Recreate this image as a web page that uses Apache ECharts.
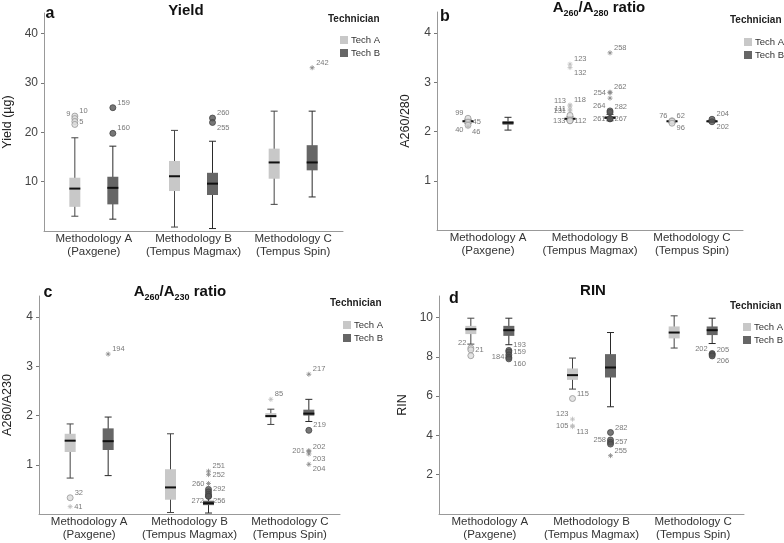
<!DOCTYPE html>
<html><head><meta charset="utf-8">
<script src="https://cdn.jsdelivr.net/npm/echarts@6/dist/echarts.min.js"></script>
<style>html,body{margin:0;padding:0;background:#fff}#c{width:784px;height:543px}</style>
</head><body><div id="c"></div>
<script>
const FONT = '"Liberation Sans", Arial, sans-serif';
const categories = ['Methodology A\n(Paxgene)', 'Methodology B\n(Tempus Magmax)', 'Methodology C\n(Tempus Spin)'];
const techNames = ['Tech A', 'Tech B'];

// Box statistics per methodology: [min whisker, Q1, median, Q3, max whisker]
// Panel a: Yield (µg)
const yieldTechA = [[3.0, 4.9, 8.6, 10.8, 18.9], [0.8, 8.1, 11.1, 14.2, 20.4], [5.4, 10.6, 13.9, 16.7, 24.3]];
const yieldTechB = [[2.4, 5.4, 8.75, 11.0, 17.2], [0.5, 7.3, 9.6, 11.8, 18.2], [6.9, 12.3, 13.9, 17.4, 24.3]];
// Outliers: [methodology index, value, kind ('o' outlier, '*' extreme), case label]
const yieldOutA = [[0, 23.3, 'o', '10'], [0, 22.8, 'o', '9'], [0, 22.2, 'o', '5'], [0, 21.6, 'o', '']];
const yieldOutB = [[0, 25.0, 'o', '159'], [0, 19.8, 'o', '160'], [1, 22.9, 'o', '260'], [1, 22.0, 'o', '255'], [2, 33.1, '*', '242']];

// Panel b: A260/A280
const r280TechA = [[2.17, 2.19, 2.21, 2.23, 2.25], [2.22, 2.24, 2.26, 2.28, 2.30], [2.18, 2.19, 2.21, 2.22, 2.23]];
const r280TechB = [[2.03, 2.14, 2.18, 2.21, 2.29], [2.22, 2.26, 2.28, 2.31, 2.35], [2.19, 2.20, 2.21, 2.22, 2.23]];
const r280OutA = [[0, 2.27, 'o', '99'], [0, 2.19, 'o', '45'], [0, 2.13, 'o', '40'], [0, 2.10, '*', '46'],
  [1, 2.33, 'o', ''], [1, 2.22, 'o', '133'], [1, 2.22, 'o', '112'], [1, 2.42, '*', '131'], [1, 2.46, '*', '111'],
  [1, 2.52, '*', '113'], [1, 2.54, '*', '118'], [1, 3.37, '*', '123'], [1, 3.30, '*', '132'],
  [2, 2.22, 'o', '76'], [2, 2.21, 'o', '62'], [2, 2.17, 'o', '96']];
const r280OutB = [[1, 2.42, 'o', '264'], [1, 2.39, 'o', '282'], [1, 2.26, 'o', '261'], [1, 2.26, 'o', '267'],
  [1, 2.68, '*', ''], [1, 2.79, '*', '254'], [1, 2.80, '*', '262'], [1, 3.60, '*', '258'],
  [2, 2.25, 'o', '204'], [2, 2.20, 'o', '202']];

// Panel c: A260/A230
const r230TechA = [[0.73, 1.26, 1.49, 1.63, 1.83], [0.03, 0.29, 0.54, 0.91, 1.63], [1.82, 1.96, 1.99, 2.05, 2.13]];
const r230TechB = [[0.78, 1.30, 1.48, 1.74, 1.97], [0.02, 0.18, 0.22, 0.27, 0.36], [1.88, 2.00, 2.04, 2.12, 2.33]];
const r230OutA = [[0, 0.33, 'o', '32'], [0, 0.15, '*', '41'], [2, 2.33, '*', '85']];
const r230OutB = [[0, 3.25, '*', '194'], [1, 0.87, '*', '251'], [1, 0.80, '*', '252'], [1, 0.62, '*', '260'],
  [1, 0.50, 'o', '292'], [1, 0.45, 'o', ''], [1, 0.40, 'o', ''], [1, 0.36, 'o', '272'], [1, 0.36, 'o', '256'],
  [2, 2.84, '*', '217'], [2, 1.70, 'o', '219'], [2, 1.29, '*', '201'], [2, 1.27, '*', '202'],
  [2, 1.22, '*', '203'], [2, 1.01, '*', '204']];

// Panel d: RIN
const rinTechA = [[8.65, 9.16, 9.41, 9.58, 9.97], [6.36, 6.83, 7.07, 7.41, 7.94], [8.45, 8.94, 9.24, 9.55, 10.09]];
const rinTechB = [[8.62, 9.07, 9.36, 9.58, 9.97], [5.46, 6.95, 7.46, 8.14, 9.24], [8.68, 9.11, 9.36, 9.55, 9.97]];
const rinOutA = [[0, 8.45, 'o', '22'], [0, 8.36, 'o', '21'], [0, 8.06, 'o', ''], [1, 5.88, 'o', '115'],
  [1, 4.83, '*', '123'], [1, 4.49, '*', '105'], [1, 4.45, '*', '113']];
const rinOutB = [[0, 8.33, 'o', '193'], [0, 8.25, 'o', '159'], [0, 8.10, 'o', ''], [0, 7.98, 'o', '184'], [0, 7.90, 'o', '160'],
  [1, 4.15, 'o', '282'], [1, 3.77, 'o', '258'], [1, 3.65, 'o', '257'], [1, 3.56, 'o', ''], [1, 2.97, '*', '255'],
  [2, 8.17, 'o', '202'], [2, 8.12, 'o', '205'], [2, 8.05, 'o', '206']];

// label placement of case numbers (style only)
const placeA = {'10': 'tr', '9': 'tl', '5': 'r', '159': 'tr', '160': 'tr', '260': 'tr', '255': 'br', '242': 'tr'};
const placeB = {'99': 'tl', '45': 'r', '40': 'bl', '46': 'br', '133': 'l', '112': 'r', '131': 'l', '111': 'l', '113': 'tl', '118': 'tr',
  '123': 'tr', '132': 'br', '76': 'tl', '62': 'tr', '96': 'br', '264': 'tl', '282': 'tr', '261': 'l', '267': 'r',
  '254': 'l', '262': 'tr', '258': 'tr', '204': 'tr', '202': 'br'};
const placeC = {'32': 'tr', '41': 'r', '85': 'tr', '194': 'tr', '251': 'tr', '252': 'r', '260': 'l', '292': 'r', '272': 'bl', '256': 'br',
  '217': 'tr', '219': 'tr', '201': 'l', '202': 'tr', '203': 'br', '204': 'br'};
const placeD = {'22': 'tl', '21': 'r', '115': 'tr', '123': 'tl', '105': 'l', '113': 'br', '193': 'tr', '159': 'r', '184': 'l', '160': 'br',
  '282': 'tr', '258': 'l', '257': 'r', '255': 'tr', '202': 'tl', '205': 'tr', '206': 'br'};

const panels = [
  {letter: 'a', title: 'Yield', yName: 'Yield (µg)', boxes: [yieldTechA, yieldTechB], outs: [yieldOutA, yieldOutB], place: placeA, yMax: 44.2, interval: 10,
   grid: {left: 37, top: 13, width: 306, height: 218}, nameGap: 30, titleXY: [186, 11], letterXY: [50, 14], legXY: [335, 30], techXY: [328, 19], offset: 19},
  {letter: 'b', title: '{b|A}{s|260}{b|/A}{s|280}{b| ratio}', yName: 'A260/280', boxes: [r280TechA, r280TechB], outs: [r280OutA, r280OutB], place: placeB, yMax: 4.43, interval: 1,
   grid: {left: 437, top: 12, width: 306, height: 218}, nameGap: 25, titleXY: [599, 8], letterXY: [445, 17], legXY: [739, 32], techXY: [730, 20], offset: 20},
  {letter: 'c', title: '{b|A}{s|260}{b|/A}{s|230}{b| ratio}', yName: 'A260/A230', boxes: [r230TechA, r230TechB], outs: [r230OutA, r230OutB], place: placeC, yMax: 4.43, interval: 1,
   grid: {left: 35, top: 296, width: 305, height: 218}, nameGap: 25, titleXY: [180, 292], letterXY: [48, 293], legXY: [338, 315], techXY: [330, 303], offset: 19},
  {letter: 'd', title: 'RIN', yName: 'RIN', boxes: [rinTechA, rinTechB], outs: [rinOutA, rinOutB], place: placeD, yMax: 11.1, interval: 2,
   grid: {left: 439, top: 296, width: 305, height: 218}, nameGap: 30, titleXY: [593, 291], letterXY: [454, 299], legXY: [738, 317], techXY: [730, 306], offset: 19}
];

const fills = ['#c8c8c8', '#666666'];
const whisk = ['#444444', '#2a2a2a'];

function boxRenderer(offset, fill, stroke) {
  return function (params, api) {
    const c = api.value(0);
    const p = [1, 2, 3, 4, 5].map(i => api.coord([c, api.value(i)]));
    const x = p[0][0] + offset;
    const yMin = p[0][1], yQ1 = p[1][1], yMed = p[2][1], yQ3 = p[3][1], yMax = p[4][1];
    const hw = 5.5, cw = 3.5;
    const ls = {stroke: stroke, lineWidth: 1};
    return {type: 'group', children: [
      {type: 'line', shape: {x1: x, y1: yMax, x2: x, y2: yMin}, style: ls},
      {type: 'line', shape: {x1: x - cw, y1: yMax, x2: x + cw, y2: yMax}, style: ls},
      {type: 'line', shape: {x1: x - cw, y1: yMin, x2: x + cw, y2: yMin}, style: ls},
      {type: 'rect', shape: {x: x - hw, y: yQ3, width: hw * 2, height: Math.max(yQ1 - yQ3, 1.5)}, style: {fill: fill}},
      {type: 'line', shape: {x1: x - hw, y1: yMed, x2: x + hw, y2: yMed}, style: {stroke: '#111', lineWidth: 2}}
    ]};
  };
}

const STAR = 'path://M5,0L5,10M0,5L10,5M1.6,1.6L8.4,8.4M8.4,1.6L1.6,8.4';
function labelFor(code) {
  const base = {show: true, fontSize: 7.5, color: '#555', fontFamily: FONT, formatter: '{b}', distance: 1};
  switch (code) {
    case 'r': return Object.assign(base, {position: 'right'});
    case 'l': return Object.assign(base, {position: 'left'});
    case 'tr': return Object.assign(base, {position: 'right', offset: [0, -5]});
    case 'br': return Object.assign(base, {position: 'right', offset: [0, 5]});
    case 'tl': return Object.assign(base, {position: 'left', offset: [0, -5]});
    case 'bl': return Object.assign(base, {position: 'left', offset: [0, 5]});
    default: return {show: false};
  }
}

const grids = [], xAxes = [], yAxes = [], series = [], legends = [], graphics = [];
panels.forEach((pn, gi) => {
  grids.push(pn.grid);
  xAxes.push({type: 'category', gridIndex: gi, data: categories, boundaryGap: true,
    axisLine: {lineStyle: {color: '#999'}}, axisTick: {show: false},
    axisLabel: {color: '#333', fontSize: 11.5, fontFamily: FONT, lineHeight: 13, margin: 1, interval: 0}});
  yAxes.push({type: 'value', gridIndex: gi, min: 0, max: pn.yMax, interval: pn.interval,
    name: pn.yName, nameLocation: 'middle', nameGap: pn.nameGap,
    nameTextStyle: {fontSize: 12.5, color: '#222', fontFamily: FONT},
    splitLine: {show: false}, axisLine: {show: true, lineStyle: {color: '#999'}},
    axisTick: {show: true, length: 3, lineStyle: {color: '#777'}},
    axisLabel: {color: '#444', fontSize: 12, fontFamily: FONT, margin: 6, showMinLabel: false, showMaxLabel: false}});
  [0, 1].forEach(t => {
    const off = (t === 0 ? -1 : 1) * pn.offset;
    series.push({type: 'custom', name: techNames[t], xAxisIndex: gi, yAxisIndex: gi,
      itemStyle: {color: fills[t]},
      renderItem: boxRenderer(off, fills[t], whisk[t]),
      encode: {x: 0, y: [1, 2, 3, 4, 5]},
      data: pn.boxes[t].map((b, i) => [i].concat(b))});
    series.push({type: 'scatter', name: techNames[t] + ' outliers', xAxisIndex: gi, yAxisIndex: gi, z: 5,
      data: pn.outs[t].map(o => {
        const star = o[2] === '*';
        return {
          name: o[3], value: [o[0], o[1]],
          symbol: star ? STAR : 'circle', symbolSize: star ? 5 : 6, symbolOffset: [off, 0],
          itemStyle: star ? {color: 'rgba(0,0,0,0)', borderColor: t === 0 ? '#bbb' : '#888', borderWidth: 1}
                          : (t === 0 ? {color: '#dcdcdc', borderColor: '#999', borderWidth: 1} : {color: '#555', borderColor: '#444', borderWidth: 1}),
          label: labelFor(pn.place[o[3]])
        };
      })});
  });
  legends.push({data: techNames, orient: 'vertical', left: pn.legXY[0], top: pn.legXY[1], icon: 'rect',
    itemWidth: 8, itemHeight: 8, itemGap: 3, selectedMode: false,
    textStyle: {fontSize: 9.5, color: '#333', fontFamily: FONT, lineHeight: 10, padding: [0, 0, 0, -2]}});
  graphics.push({type: 'text', x: pn.techXY[0], y: pn.techXY[1],
    style: {text: 'Technician', font: 'bold 10px ' + FONT, fill: '#222', align: 'left', verticalAlign: 'middle'}});
  graphics.push({type: 'text', x: pn.letterXY[0], y: pn.letterXY[1],
    style: {text: pn.letter, font: 'bold 16px ' + FONT, fill: '#111', align: 'center', verticalAlign: 'middle'}});
  const rich = {b: {fontSize: 15, fontWeight: 'bold', fontFamily: FONT, fill: '#111', lineHeight: 20},
                s: {fontSize: 9, fontWeight: 'bold', fontFamily: FONT, fill: '#111', lineHeight: 20, verticalAlign: 'bottom'}};
  graphics.push({type: 'text', x: pn.titleXY[0], y: pn.titleXY[1],
    style: {text: pn.title, font: 'bold 15px ' + FONT, fill: '#111', align: 'center', verticalAlign: 'middle', rich: rich}});
});

const chart = echarts.init(document.getElementById('c'), null, {renderer: 'canvas'});
chart.setOption({
  animation: false, backgroundColor: '#fff',
  grid: grids, xAxis: xAxes, yAxis: yAxes, legend: legends, series: series, graphic: graphics
});
</script></body></html>
